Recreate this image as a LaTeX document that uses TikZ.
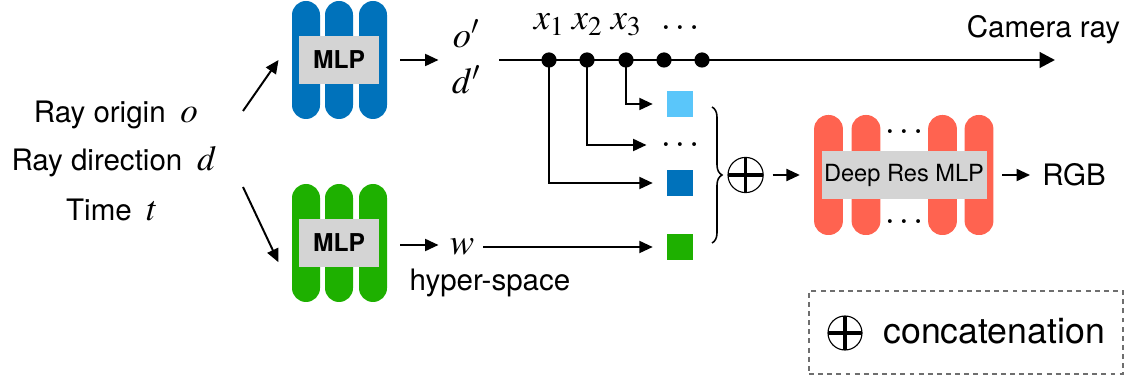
\documentclass[tikz,border=0pt]{standalone}
\usepackage{mathptmx}
\usepackage{fontspec}
\setmainfont{TeX Gyre Heros}
\usetikzlibrary{arrows.meta, positioning, calc, decorations.pathreplacing}

\definecolor{mlpblue}{RGB}{0,114,187}
\definecolor{mlpgreen}{RGB}{30,176,0}
\definecolor{mlpred}{RGB}{255,99,80}
\definecolor{lightblue}{RGB}{90,198,250}
\definecolor{boxgray}{RGB}{212,212,212}
\definecolor{legendgray}{RGB}{110,110,110}

\newcommand{\bigvar}[1]{{\fontsize{25}{30}\selectfont$#1$}}

\tikzset{
  pill/.style={rounded corners=0.35cm, minimum width=0.7cm, minimum height=2.95cm, inner sep=0pt},
  graybox/.style={fill=boxgray, inner sep=0pt, minimum height=1.2cm},
  arr/.style={-{Triangle[length=9.5pt,width=8.5pt]}, line width=1.4pt},
  txt/.style={font=\fontsize{21}{25}\selectfont},
  mth/.style={font=\fontsize{26}{30}\selectfont},
  feat/.style={minimum size=0.65cm, inner sep=0pt},
  sample/.style={circle, fill=black, minimum size=0.38cm, inner sep=0pt},
  catnode/.style={circle, draw, line width=0.8pt, minimum size=#1, inner sep=0pt,
    path picture={\draw[line width=2.6pt] (path picture bounding box.north) -- (path picture bounding box.south)
      (path picture bounding box.west) -- (path picture bounding box.east);}},
}

\begin{document}
\begin{tikzpicture}
    \useasboundingbox (0,0) rectangle (28.55,9.525);
    % inputs
    \node[txt] (origin) at (2.9,6.65) {Ray origin\enspace\bigvar{o}};
    \node[txt] (direction) at (2.85,5.475) {Ray direction\enspace\bigvar{d}};
    \node[txt] (time) at (2.8,4.275) {Time\enspace\bigvar{t}};

    % blue MLP
    \node[pill, fill=mlpblue] (b1) at (7.65,8.025) {};
    \node[pill, fill=mlpblue] (b2) at (8.475,8.025) {};
    \node[pill, fill=mlpblue] (b3) at (9.325,8.025) {};
    \node[graybox, minimum width=2cm, font=\bfseries\fontsize{17.5}{20}\selectfont] (bmlp) at (8.475,8.025) {MLP};

    % green MLP
    \node[pill, fill=mlpgreen] (g1) at (7.65,3.45) {};
    \node[pill, fill=mlpgreen] (g2) at (8.475,3.45) {};
    \node[pill, fill=mlpgreen] (g3) at (9.325,3.45) {};
    \node[graybox, minimum width=2cm, font=\bfseries\fontsize{17.5}{20}\selectfont] (gmlp) at (8.475,3.45) {MLP};

    \coordinate (uptail) at (6.075,6.75);
    \coordinate (downtail) at (6.075,4.85);
    \draw[arr] (uptail) -- ([xshift=-0.33cm]b1.west);
    \draw[arr] (downtail) -- ([xshift=-0.33cm,yshift=0.125cm]g1.south west |- gmlp.south);

    \draw[arr] ([xshift=0.33cm]b3.east) -- ++(0.95,0);
    \node[mth] (oprime) at (11.65,8.675) {$o'$};
    \node[mth] (dprime) at (11.65,7.525) {$d'$};

    \draw[arr] ([xshift=0.33cm,yshift=-0.05cm]g3.east) -- ++(0.95,0);
    \node[mth] (w) at (11.55,3.35) {$w$};
    \node[txt] (hyper) at (12.25,2.45) {hyper-space};

    % camera ray and samples
    \coordinate (raystart) at (12.475,8.025);
    \coordinate (rayend) at (26.375,8.025);
    \draw[line width=2.1pt, -{Triangle[length=11pt,width=11pt]}] (raystart) -- (rayend);
    \node[txt, anchor=east] (camlabel) at (28.125,8.775) {Camera ray};

    \node[sample] (s1) at (13.725,8.025) {};
    \node[sample] (s2) at (14.675,8.025) {};
    \node[sample] (s3) at (15.65,8.025) {};
    \node[sample] (s4) at (16.6,8.025) {};
    \node[sample] (s5) at (17.55,8.025) {};
    \node[mth, anchor=base] (x1) at (13.725,8.775) {$x_1$};
    \node[mth, anchor=base] (x2) at (14.675,8.775) {$x_2$};
    \node[mth, anchor=base] (x3) at (15.65,8.775) {$x_3$};
    \node[mth, anchor=base] (xdots) at (17.0,8.775) {$\dots$};

    % features
    \node[feat, fill=lightblue] (f3) at (17,6.925) {};
    \node[feat, mth] (fdots) at (17,5.9) {$\dots$};
    \node[feat, fill=mlpblue] (f1) at (17,4.95) {};
    \node[feat, fill=mlpgreen] (fw) at (17,3.35) {};

    \draw[arr] (s3.center) |- ([xshift=-0.35cm]f3.west);
    \draw[arr] (s2.center) |- ([xshift=-0.35cm]fdots.west);
    \draw[arr] (s1.center) |- ([xshift=-0.35cm]f1.west);
    \draw[arr] ([xshift=0.1cm]w.east) -- ([xshift=-0.35cm]fw.west);

    \coordinate (bracetop) at (17.8,6.85);
    \coordinate (bracebot) at (17.8,3.45);
    \draw[decorate, decoration={brace, amplitude=0.25cm}, line width=1.1pt] (bracetop) -- (bracebot);

    % concatenation and deep MLP
    \node[catnode=0.88cm] (cat) at (18.64,5.15) {};

    \node[pill, fill=mlpred, minimum width=0.72cm, minimum height=3cm] (r1) at (20.7125,5.15) {};
    \node[pill, fill=mlpred, minimum width=0.72cm, minimum height=3cm] (r2) at (21.65,5.15) {};
    \node[pill, fill=mlpred, minimum width=0.72cm, minimum height=3cm] (r3) at (23.5625,5.15) {};
    \node[pill, fill=mlpred, minimum width=0.72cm, minimum height=3cm] (r4) at (24.475,5.15) {};
    \node[graybox, minimum width=4.125cm, font=\fontsize{16.8}{19}\selectfont] (deep) at (22.6,5.15) {Deep Res MLP};
    \node[mth] (rdotsup) at (22.6,6.225) {$\dots$};
    \node[mth] (rdotsdown) at (22.6,3.975) {$\dots$};

    \draw[arr] ([xshift=0.22cm]cat.east) -- ([xshift=-0.35cm]r1.west);

    \node[txt, inner sep=0pt, anchor=west] (rgb) at (26.05,5.15) {RGB};
    \draw[arr] ([xshift=0.215cm]r4.east) -- ([xshift=-0.3cm]rgb.west);

    % legend
    \node[draw=legendgray, dash pattern=on 3.5pt off 3pt, line width=1.1pt, minimum width=7.85cm, minimum height=2.075cm] (legend) at (24.15,1.2125) {};
    \node[catnode=0.85cm] (catkey) at (21.125,1.2) {};
    \node[font=\fontsize{25.4}{30}\selectfont, inner sep=0pt, anchor=base west] (catlbl) at (22.075,0.95) {concatenation};
\end{tikzpicture}
\end{document}
